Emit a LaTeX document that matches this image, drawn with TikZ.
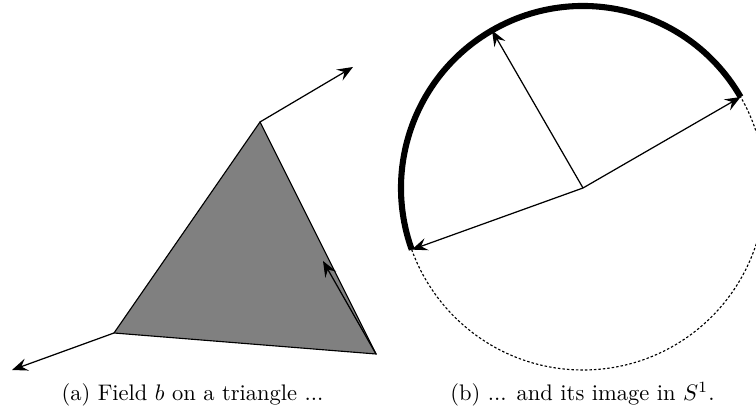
\documentclass[tikz,border=0pt]{standalone}
\usetikzlibrary{arrows.meta}

\begin{document}
\begin{tikzpicture}[
  x=0.4444pt, y=0.4444pt,
  % ---- Style definitions ----
  face/.style={fill=black!50, draw=black, line width=0.5pt},
  vec/.style={-{Stealth[length=7pt, width=5.6pt, inset=2.6pt]}, line width=0.55pt},
  image/.style={line width=2.7pt},
  unitcirc/.style={draw, line width=0.5pt, dash pattern=on 1.1pt off 0.9pt},
  caption/.style={font=\normalsize, anchor=base, inner sep=0pt},
]
\useasboundingbox (0,0) rectangle (756,417);

% ---- Left: triangle and field b ----
\coordinate (top) at (260,295);
\coordinate (left) at (114,84);
\coordinate (right) at (376,63);
\coordinate (btop) at (353,350);
\coordinate (bleft) at (12,47);
\coordinate (bright) at (323,156);

\draw[face] (top) -- (left) -- (right) -- cycle;
\draw[vec] (top) -- (btop);
\draw[vec] (left) -- (bleft);
\draw[vec] (right) -- (bright);

% ---- Right: image in S^1 ----
\coordinate (c) at (583,229);
\path (c) ++(30:182) coordinate (p1);
\path (c) ++(120:182) coordinate (p2);
\path (c) ++(199.8:182) coordinate (p3);

\draw[unitcirc] (c) circle[radius=182];
\draw[image] (p1) arc[start angle=30, end angle=199.8, radius=182];
\draw[vec] (c) -- (p1);
\draw[vec] (c) -- (p2);
\draw[vec] (c) -- (p3);

% ---- Captions ----
\node[caption] (capa) at (192.5,16) {(a) Field $b$ on a triangle ...};
\node[caption] (capb) at (582.5,16) {(b) ... and its image in $S^1$.};

\end{tikzpicture}
\end{document}
